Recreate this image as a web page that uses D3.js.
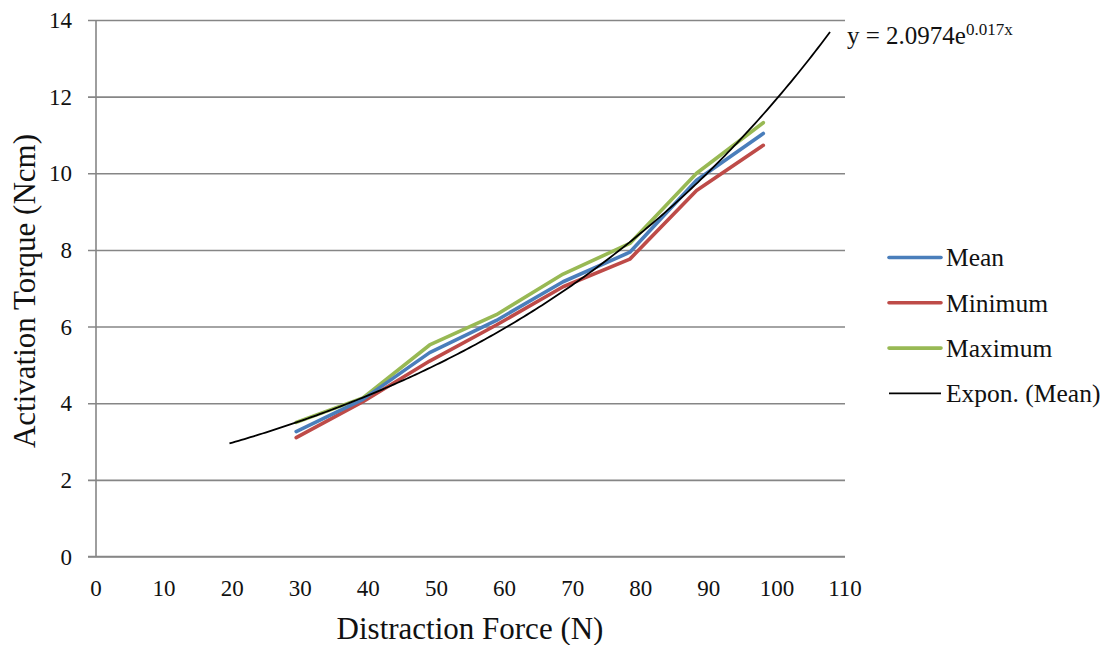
<!DOCTYPE html>
<html>
<head>
<meta charset="utf-8">
<script src="https://cdn.jsdelivr.net/npm/d3@7"></script>
<style>
  html, body { margin: 0; padding: 0; background: #fff; }
  svg { display: block; font-family: "Liberation Serif", "DejaVu Serif", serif; }
</style>
</head>
<body>
<svg id="chart" width="1111" height="645"></svg>
<script>
// Distraction force (N) at each load step
const force = [29.4, 39.2, 49, 58.8, 68.6, 78.4, 88.2, 98];
// Activation torque (Ncm)
const meanTorque = [3.26, 4.10, 5.32, 6.16, 7.17, 7.94, 9.82, 11.04];
const minTorque  = [3.10, 4.04, 5.10, 6.04, 7.04, 7.76, 9.55, 10.73];
const maxTorque  = [3.50, 4.14, 5.52, 6.31, 7.37, 8.17, 10.0, 11.32];
const seriesNames = ["Mean", "Minimum", "Maximum"];
const trendName = "Expon. (Mean)";

// Exponential trendline of the mean: y = a * e^(b x), extended one step each side
const trendA = 2.0974;
const trendB = 0.0174;
const trendRange = [19.6, 107.8];

const xTicks = [0, 10, 20, 30, 40, 50, 60, 70, 80, 90, 100, 110];
const yTicks = [0, 2, 4, 6, 8, 10, 12, 14];

const colors = ["#4A7EBB", "#BE4B48", "#98B954"];

const svg = d3.select("#chart");
const x = d3.scaleLinear().domain([0, 110]).range([96, 845]);
const y = d3.scaleLinear().domain([0, 14]).range([556.5, 20]);

const gridColor = "#868686";
const textColor = "#111";

// horizontal gridlines with their outward tick stubs
const gy = svg.append("g").attr("transform", "translate(845,0)");
gy.call(d3.axisLeft(y).tickValues(yTicks).tickSize(845 - 88).tickFormat(""));
gy.select(".domain").remove();
gy.selectAll(".tick line").attr("stroke", gridColor).attr("stroke-width", 1.6);

// y tick labels
svg.append("g").selectAll("text").data(yTicks).join("text")
  .attr("x", 72).attr("y", d => y(d)).attr("dy", "0.35em")
  .attr("text-anchor", "end").attr("font-size", 23).attr("fill", textColor)
  .text(d => d);

// x tick labels
svg.append("g").selectAll("text").data(xTicks).join("text")
  .attr("x", d => x(d)).attr("y", 596)
  .attr("text-anchor", "middle").attr("font-size", 23).attr("fill", textColor)
  .text(d => d);

// axis lines
svg.append("line").attr("x1", x(0)).attr("x2", x(0)).attr("y1", y(14)).attr("y2", y(0))
  .attr("stroke", gridColor).attr("stroke-width", 1.6);
svg.append("line").attr("x1", 88).attr("x2", x(110)).attr("y1", y(0)).attr("y2", y(0))
  .attr("stroke", gridColor).attr("stroke-width", 1.6);

// data series
const allSeries = [meanTorque, minTorque, maxTorque];
const line = d3.line().x(d => x(d[0])).y(d => y(d[1]));
// max underneath, mean on top
[2, 1, 0].forEach(i => {
  svg.append("path")
    .datum(force.map((f, j) => [f, allSeries[i][j]]))
    .attr("d", line)
    .attr("fill", "none")
    .attr("stroke", colors[i])
    .attr("stroke-width", 3.6)
    .attr("stroke-linejoin", "round")
    .attr("stroke-linecap", "round");
});

// trendline
const trendPts = d3.range(0, 201).map(k => {
  const fx = trendRange[0] + (trendRange[1] - trendRange[0]) * k / 200;
  return [fx, trendA * Math.exp(trendB * fx)];
});
svg.append("path").datum(trendPts).attr("d", line)
  .attr("fill", "none").attr("stroke", "#000").attr("stroke-width", 1.8);

// trend equation
const eq = svg.append("text").attr("x", 847).attr("y", 44).attr("font-size", 25).attr("fill", textColor);
eq.append("tspan").text("y = " + trendA.toFixed(4) + "e");
eq.append("tspan").attr("dy", -9).attr("font-size", 17).text(d3.format(".3f")(trendB) + "x");

// legend
const legendItems = seriesNames.map((n, i) => ({ name: n, color: colors[i], w: 3.6 }))
  .concat([{ name: trendName, color: "#000", w: 1.8 }]);
const lg = svg.append("g");
legendItems.forEach((it, i) => {
  const ly = 257.5 + i * 45.3;
  lg.append("line").attr("x1", 889).attr("x2", 941).attr("y1", ly).attr("y2", ly)
    .attr("stroke", it.color).attr("stroke-width", it.w).attr("stroke-linecap", it.w > 2 ? "round" : "butt");
  lg.append("text").attr("x", 946).attr("y", ly).attr("dy", "0.35em")
    .attr("font-size", 25.5).attr("fill", textColor).text(it.name);
});

// axis titles
svg.append("text").attr("x", 470).attr("y", 639).attr("text-anchor", "middle")
  .attr("font-size", 31).attr("fill", textColor).text("Distraction Force (N)");
svg.append("text").attr("transform", "translate(35,291) rotate(-90)").attr("text-anchor", "middle")
  .attr("font-size", 31).attr("fill", textColor).text("Activation Torque (Ncm)");
</script>
</body>
</html>
